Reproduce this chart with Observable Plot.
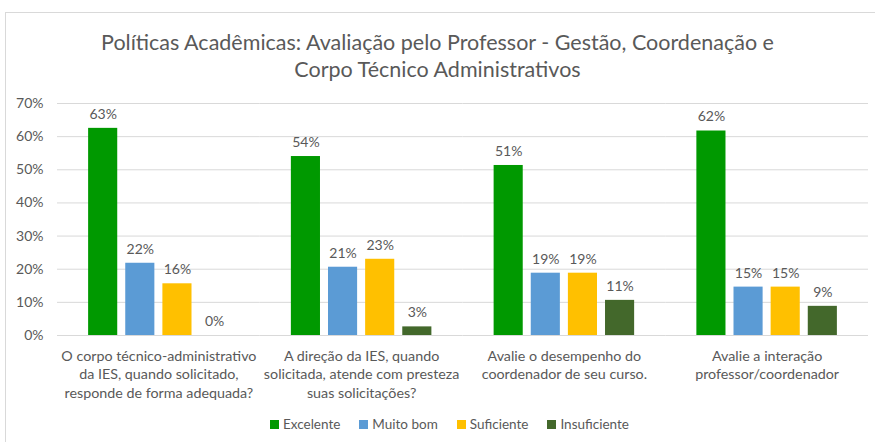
<!DOCTYPE html>
<html>
<head>
<meta charset="utf-8">
<script src="https://cdn.jsdelivr.net/npm/d3@7"></script>
<script src="https://cdn.jsdelivr.net/npm/@observablehq/plot@0.6"></script>
<style>
  html, body { margin: 0; padding: 0; background: #fff; overflow: hidden; }
  #wrap { position: relative; width: 875px; height: 442px; overflow: hidden; font-family: Lato, "Open Sans", sans-serif; color: #595959; }
  #frame { position: absolute; left: 5px; top: 12px; width: 900px; height: 460px; border: 1px solid #d9d9d9; box-sizing: border-box; }
  #title { position: absolute; left: 0; top: 29px; width: 875px; text-align: center; font-size: 21.5px; line-height: 27px; color: #595959; }
  #chart { position: absolute; left: 0; top: 95px; }
  #legend { position: absolute; top: 415px; left: 270px; display: flex; font-size: 13.5px; line-height: 18px; }
  .item { display: flex; align-items: center; margin-right: 19px; }
  .sw { width: 9px; height: 9px; margin-right: 4px; }
</style>
</head>
<body>
<div id="wrap">
  <div id="frame"></div>
  <div id="title">Políticas Acadêmicas: Avaliação pelo Professor - Gestão, Coordenação e<br>Corpo Técnico Administrativos</div>
  <div id="chart"></div>
  <div id="legend"></div>
</div>
<script>
const categories = [
  "O corpo técnico-administrativo\nda IES, quando solicitado,\nresponde de forma adequada?",
  "A direção da IES, quando\nsolicitada, atende com presteza\nsuas solicitações?",
  "Avalie o desempenho do\ncoordenador de seu curso.",
  "Avalie a interação\nprofessor/coordenador"
];
const series = ["Excelente", "Muito bom", "Suficiente", "Insuficiente"];
const colors = ["#009900", "#5b9bd5", "#ffc000", "#43682b"];
const excelente = [0.625, 0.54, 0.513, 0.617];
const muitoBom = [0.218, 0.206, 0.188, 0.146];
const suficiente = [0.156, 0.23, 0.188, 0.146];
const insuficiente = [0, 0.026, 0.106, 0.088];
const yTicks = [0, 0.1, 0.2, 0.3, 0.4, 0.5, 0.6, 0.7];

const valuesBySeries = [excelente, muitoBom, suficiente, insuficiente];
const data = [];
categories.forEach((c, i) => {
  series.forEach((s, j) => data.push({cat: c, serie: s, value: valuesBySeries[j][i]}));
});
const pct = d3.format(".0%");
const font = "Lato, 'Open Sans', sans-serif";

const chart = Plot.plot({
  width: 875,
  height: 318,
  marginTop: 8,
  marginBottom: 78,
  marginLeft: 57,
  marginRight: 7,
  style: {fontFamily: font, fontSize: "14px", color: "#595959", background: "transparent"},
  fx: {domain: categories, padding: 0, label: null, axis: null, round: false},
  x: {domain: series, axis: null, paddingInner: 0.216, paddingOuter: 0.838, round: false},
  y: {domain: [0, 0.7], axis: null},
  color: {domain: series, range: colors},
  marks: [
    Plot.ruleY(yTicks, {stroke: "#d9d9d9", strokeWidth: 1}),
    Plot.axisY(yTicks, {tickFormat: pct, tickSize: 0, tickPadding: 14, label: null, fontSize: 14, fill: "#595959"}),
    Plot.barY(data, {fx: "cat", x: "serie", y: "value", fill: "serie"}),
    Plot.text(data, {fx: "cat", x: "serie", y: "value", text: d => pct(d.value), dy: -14, fill: "#595959", fontSize: 14}),
    Plot.axisFx({anchor: "bottom", tickSize: 0, tickPadding: 12, lineHeight: 1.3, fontSize: 14.3, label: null, fill: "#595959"})
  ]
});
document.getElementById("chart").appendChild(chart);

const legend = document.getElementById("legend");
series.forEach((s, i) => {
  const item = document.createElement("div");
  item.className = "item";
  const sw = document.createElement("div");
  sw.className = "sw";
  sw.style.background = colors[i];
  const t = document.createElement("span");
  t.textContent = s;
  item.appendChild(sw);
  item.appendChild(t);
  legend.appendChild(item);
});
</script>
</body>
</html>
